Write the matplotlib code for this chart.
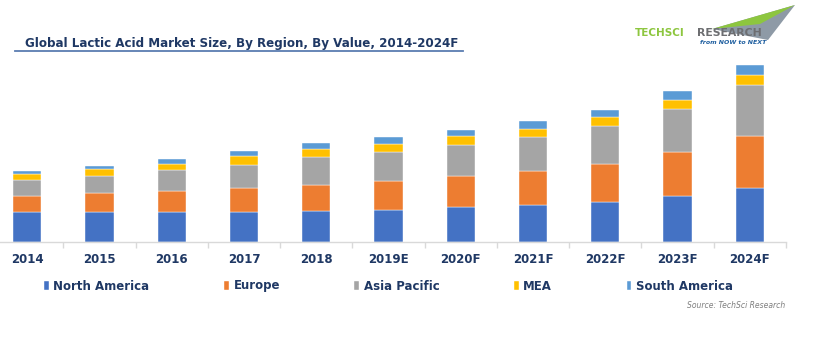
import matplotlib
matplotlib.use("Agg")
import matplotlib.pyplot as plt
from matplotlib.patches import Polygon
from matplotlib.lines import Line2D
import numpy as np

years = ["2014", "2015", "2016", "2017", "2018", "2019E", "2020F", "2021F", "2022F", "2023F", "2024F"]
north_america = [29.7, 29.7, 29.7, 29.7, 31.0, 32.3, 35.0, 37.0, 39.7, 46.0, 53.7]
europe = [16.3, 19.0, 21.3, 24.0, 26.0, 28.7, 31.3, 34.0, 38.6, 44.0, 52.3]
asia_pacific = [16.0, 17.6, 21.0, 23.3, 27.7, 28.7, 31.0, 33.7, 37.4, 43.0, 51.0]
mea = [6.3, 7.0, 6.0, 9.0, 8.3, 8.3, 9.0, 8.3, 9.0, 9.0, 10.0]
south_america = [2.7, 2.7, 5.3, 5.0, 5.7, 7.0, 6.0, 8.0, 7.3, 9.0, 10.0]
series_names = ["North America", "Europe", "Asia Pacific", "MEA", "South America"]
colors = ["#4472C4", "#ED7D31", "#A5A5A5", "#FFC000", "#5B9BD5"]

W, H = 820, 350
fig = plt.figure(figsize=(8.2, 3.5), dpi=100)
fig.patch.set_facecolor("white")

def fx(x):
    return x / W

def fy(y):
    return 1 - y / H

# axes: baseline at y=242, category centers 27..749
ax_left, ax_right = -9, 786
ax_bottom, ax_top = 242, 60
ax = fig.add_axes([fx(ax_left), fy(ax_bottom), (ax_right - ax_left) / W, (ax_bottom - ax_top) / H])
ax.set_facecolor("none")

x = np.arange(len(years))
data = [north_america, europe, asia_pacific, mea, south_america]
bottom = np.zeros(len(years))
handles = []
for name, vals, c in zip(series_names, data, colors):
    b = ax.bar(x, vals, width=0.39, bottom=bottom, color=c, label=name,
               edgecolor="white", linewidth=0.3)
    handles.append(b)
    bottom += np.array(vals)

ax.set_xlim(-0.5, len(years) - 0.5)
ax.set_ylim(0, ax_bottom - ax_top)
for s in ["top", "right", "left"]:
    ax.spines[s].set_visible(False)
ax.spines["bottom"].set_color("#D9D9D9")
ax.spines["bottom"].set_linewidth(1.0)
ax.set_yticks([])
ax.set_xticks(x)
ax.set_xticklabels(years, fontsize=8.5, fontweight="bold", color="#1F3864")
ax.tick_params(axis="x", which="major", length=0, pad=8)
ax.set_xticks(np.arange(-0.5, len(years)), minor=True)
ax.tick_params(axis="x", which="minor", length=4, color="#D9D9D9", width=1)

# title
fig.text(fx(25), fy(44), "Global Lactic Acid Market Size, By Region, By Value, 2014-2024F",
         fontsize=8.6, fontweight="bold", color="#1F3864", ha="left", va="center")
fig.add_artist(Line2D([fx(15), fx(463)], [fy(51), fy(51)], color="#5B7DB1", linewidth=1.3))

# legend
leg = fig.legend(handles=handles, labels=series_names, loc="center left",
                 bbox_to_anchor=(fx(44), fy(286)), ncol=5, frameon=False,
                 fontsize=8.5, handlelength=0.4, handleheight=0.7, handletextpad=0.4,
                 columnspacing=6.3, borderaxespad=0, borderpad=0)
for t in leg.get_texts():
    t.set_fontweight("bold")
    t.set_color("#1F3864")

# source
fig.text(fx(785), fy(305), "Source: TechSci Research", fontsize=5.5, style="italic",
         color="#7F7F7F", ha="right", va="center")

# logo
gray_poly = Polygon([(fx(712), fy(29)), (fx(795), fy(5)), (fx(768), fy(40))],
                    closed=True, facecolor="#8E9AA6", edgecolor="none", transform=fig.transFigure)
green_poly = Polygon([(fx(712), fy(29)), (fx(795), fy(5)), (fx(760), fy(24))],
                     closed=True, facecolor="#8DC63F", edgecolor="none", transform=fig.transFigure)
fig.add_artist(gray_poly)
fig.add_artist(green_poly)
fig.text(fx(635), fy(33), "TECHSCI", fontsize=7.5, fontweight="bold", color="#8DC63F",
         ha="left", va="center")
fig.text(fx(697), fy(33), "RESEARCH", fontsize=7.8, fontweight="bold", color="#6D6E71",
         ha="left", va="center")
fig.text(fx(700), fy(43), "from NOW to NEXT", fontsize=4.5, style="italic", fontweight="bold",
         color="#1F5FA0", ha="left", va="center")

fig.savefig("out.png", dpi=100)
